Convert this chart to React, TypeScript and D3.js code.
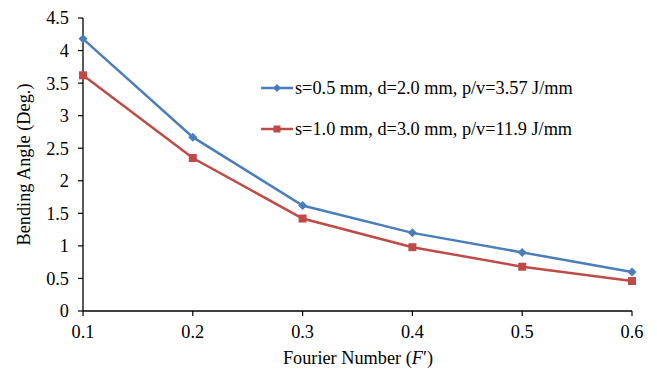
import React from "react";
import * as d3 from "d3";

const xValues = [0.1, 0.2, 0.3, 0.4, 0.5, 0.6];
const series1 = [4.18, 2.67, 1.62, 1.2, 0.9, 0.6];
const series2 = [3.62, 2.35, 1.42, 0.98, 0.68, 0.46];
const seriesNames = [
  "s=0.5 mm, d=2.0 mm, p/v=3.57 J/mm",
  "s=1.0 mm, d=3.0 mm, p/v=11.9 J/mm",
];
const yTicks = [0, 0.5, 1, 1.5, 2, 2.5, 3, 3.5, 4, 4.5];
const xTicks = [0.1, 0.2, 0.3, 0.4, 0.5, 0.6];

const W = 657;
const H = 369;
const BLUE = "#4A7EBB";
const RED = "#BE4B48";
const FONT = "'Liberation Serif', 'Times New Roman', serif";
const FS = 18.3;

export default function App() {
  const x = d3.scaleLinear().domain([0.1, 0.6]).range([83, 632]);
  const y = d3.scaleLinear().domain([0, 4.5]).range([311, 18]);
  const line = d3
    .line<number>()
    .x((_, i) => x(xValues[i]))
    .y((d) => y(d));

  const diamond = (cx: number, cy: number, r = 4.5) =>
    `M${cx},${cy - r}L${cx + r},${cy}L${cx},${cy + r}L${cx - r},${cy}Z`;

  return (
    <svg
      width={W}
      height={H}
      style={{ position: "absolute", left: 0, top: 0, background: "#fff" }}
      fontFamily={FONT}
    >
      {/* axes */}
      <line x1={x(0.1)} x2={x(0.1)} y1={y(4.5)} y2={y(0)} stroke="#000" strokeWidth={1.3} />
      <line x1={x(0.1)} x2={x(0.6)} y1={y(0)} y2={y(0)} stroke="#000" strokeWidth={1.3} />
      {yTicks.map((t) => (
        <g key={"y" + t}>
          <line x1={x(0.1) - 5} x2={x(0.1)} y1={y(t)} y2={y(t)} stroke="#000" strokeWidth={1.2} />
          <text x={69} y={y(t)} dy="0.35em" textAnchor="end" fontSize={FS} fill="#000">
            {t}
          </text>
        </g>
      ))}
      {xTicks.map((t) => (
        <g key={"x" + t}>
          <line x1={x(t)} x2={x(t)} y1={y(0)} y2={y(0) + 5} stroke="#000" strokeWidth={1.2} />
          <text x={x(t)} y={338} textAnchor="middle" fontSize={FS} fill="#000">
            {t.toFixed(1)}
          </text>
        </g>
      ))}
      <text
        transform={`translate(30,${(y(0) + y(4.5)) / 2}) rotate(-90)`}
        textAnchor="middle"
        fontSize={FS}
        fill="#000"
      >
        Bending Angle (Deg.)
      </text>
      <text x={358} y={364} textAnchor="middle" fontSize={FS} fill="#000">
        Fourier Number (<tspan fontStyle="italic">F</tspan>′)
      </text>

      {/* lines */}
      <path d={line(series1) || ""} fill="none" stroke={BLUE} strokeWidth={2.5} />
      <path d={line(series2) || ""} fill="none" stroke={RED} strokeWidth={2.5} />
      {series1.map((v, i) => (
        <path key={"m1" + i} d={diamond(x(xValues[i]), y(v))} fill={BLUE} />
      ))}
      {series2.map((v, i) => (
        <rect key={"m2" + i} x={x(xValues[i]) - 4} y={y(v) - 4} width={8} height={8} fill={RED} />
      ))}

      {/* legend */}
      <line x1={261} x2={293} y1={88} y2={88} stroke={BLUE} strokeWidth={2.5} />
      <path d={diamond(277, 88, 4)} fill={BLUE} />
      <text x={295} y={88} dy="0.35em" fontSize={FS} fill="#000">
        {seriesNames[0]}
      </text>
      <line x1={261} x2={293} y1={129} y2={129} stroke={RED} strokeWidth={2.5} />
      <rect x={273.5} y={125.5} width={7} height={7} fill={RED} />
      <text x={295} y={129} dy="0.35em" fontSize={FS} fill="#000">
        {seriesNames[1]}
      </text>
    </svg>
  );
}
